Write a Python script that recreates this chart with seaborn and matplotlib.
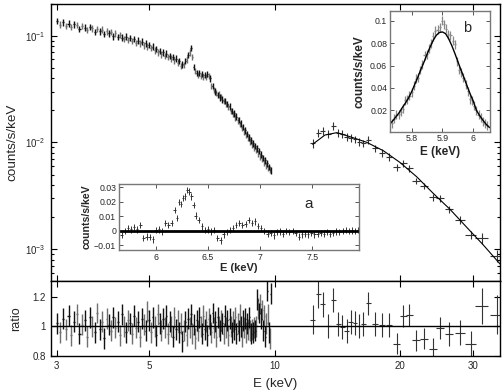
import numpy as np
import matplotlib
matplotlib.use("Agg")
import matplotlib.pyplot as plt
import seaborn as sns
from matplotlib.ticker import FixedLocator, FixedFormatter, NullLocator, LogLocator, NullFormatter

# ---------------- data ----------------
lo_E = [3.00, 3.05, 3.10, 3.15, 3.20, 3.25, 3.30, 3.35, 3.40, 3.45,
        3.50, 3.55, 3.60, 3.65, 3.70, 3.75, 3.80, 3.85, 3.90, 3.95,
        4.00, 4.05, 4.10, 4.15, 4.20, 4.25, 4.30, 4.35, 4.40, 4.45,
        4.50, 4.55, 4.60, 4.65, 4.70, 4.75, 4.80, 4.85, 4.90, 4.95,
        5.00, 5.05, 5.10, 5.15, 5.20, 5.25, 5.30, 5.35, 5.40, 5.45,
        5.50, 5.55, 5.60, 5.65, 5.70, 5.75, 5.80, 5.85, 5.90, 5.95,
        6.00, 6.05, 6.10, 6.15, 6.20, 6.25, 6.30, 6.35, 6.40, 6.45,
        6.50, 6.55, 6.60, 6.65, 6.70, 6.75, 6.80, 6.85, 6.90, 6.95,
        7.00, 7.05, 7.10, 7.15, 7.20, 7.25, 7.30, 7.35, 7.40, 7.45,
        7.50, 7.55, 7.60, 7.65, 7.70, 7.75, 7.80, 7.85, 7.90, 7.95,
        8.00, 8.05, 8.10, 8.15, 8.20, 8.25, 8.30, 8.35, 8.40, 8.45,
        8.50, 8.55, 8.60, 8.65, 8.70, 8.75, 8.80, 8.85, 8.90, 8.95,
        9.00, 9.05, 9.10, 9.15, 9.20, 9.25, 9.30, 9.35, 9.40, 9.45,
        9.50, 9.55, 9.60, 9.65, 9.70, 9.75, 9.80]
lo_flux = [.138, .127, .133, .124, .130, .121, .128, .126, .116, .124,
           .119, .113, .121, .117, .108, .116, .110, .114, .104, .110,
           .105, .108, .099, .105, .097, .102, .096, .093, .098, .091,
           .095, .089, .093, .086, .090, .085, .088, .081, .085, .079,
           .082, .077, .079, .073, .075, .070, .072, .067, .070, .065,
           .068, .063, .065, .061, .063, .059, .061, .056, .058, .052,
           .054, .053, .058, .060, .066, .070, .077, .063, .051, .047,
           .045, .043, .045, .042, .044, .041, .043, .041, .044, .042,
           .040, .034, .034, .031, .030, .029, .028, .0283, .0265, .0268,
           .0252, .0244, .0246, .0229, .0231, .0216, .0218, .0198, .0197, .0185,
           .0187, .0172, .0175, .0161, .0162, .0149, .0151, .0137, .0140, .0127,
           .0130, .0118, .0121, .0110, .0112, .0102, .0105, .0096, .0098, .0090,
           .0093, .0085, .0088, .0079, .0083, .0074, .0077, .0071, .0072, .0065,
           .0068, .0061, .0064, .0058, .0059, .0056, .0055]
lo_ratio = [1.02, 0.96, 1.05, 0.98, 1.07, 0.94, 1.03, 1.08, 0.95, 1.01,
            1.04, 0.93, 1.06, 1.00, 0.96, 1.09, 0.98, 1.03, 0.92, 1.05,
            1.01, 0.97, 1.06, 0.99, 1.03, 0.94, 1.08, 1.00, 0.96, 1.04,
            1.02, 0.95, 1.07, 0.99, 1.03, 0.93, 1.05, 1.01, 0.97, 1.10,
            1.04, 0.96, 1.06, 1.00, 0.94, 1.08, 1.02, 0.97, 1.05, 0.99,
            1.07, 0.95, 1.03, 1.00, 0.93, 1.06, 0.98, 1.04, 0.96, 1.02,
            0.90, 0.97, 1.03, 0.94, 1.05, 0.99, 1.08, 0.95, 1.01, 0.92,
            1.04, 0.97, 1.06, 1.00, 0.95, 1.07, 0.98, 1.03, 0.94, 1.05,
            1.01, 0.96, 1.09, 0.99, 1.03, 0.93, 1.06, 1.00, 0.97, 1.04,
            1.02, 0.95, 1.07, 0.99, 1.04, 0.94, 1.05, 1.00, 0.96, 1.03,
            0.98, 1.06, 0.95, 1.02, 0.97, 1.08, 1.00, 0.93, 1.04, 0.99,
            1.05, 0.96, 1.02, 0.98, 1.06, 0.97, 0.95, 0.98, 0.96, 0.99,
            0.97, 1.00, 1.18, 1.12, 1.09, 1.15, 1.05, 1.11, 0.97, 1.07,
            0.93, 1.02, 1.24, 1.08, 0.96, 0.92, 1.22]
lo_err = 0.07      # relative error of the low-energy bins
lo_halfbin = 0.02

hi_E = [12.35, 12.74, 13.06, 13.47, 13.84, 14.23, 14.55, 14.91, 15.24, 15.61,
        15.98, 16.34, 16.80, 17.43, 18.09, 18.87, 19.66, 20.39, 21.08, 21.87,
        22.86, 23.99, 24.97, 26.28, 27.88, 29.58, 31.44, 34.16]
hi_flux = [0.00983, 0.01236, 0.01289, 0.01202, 0.01427, 0.01236, 0.01202, 0.01133,
           0.01109, 0.01072, 0.01017, 0.00983, 0.01055, 0.00883, 0.00803, 0.00736,
           0.00586, 0.00639, 0.00573, 0.00439, 0.00391, 0.00307, 0.00300, 0.00237,
           0.00188, 0.00136, 0.00127, 0.000866]
hi_halfbin = [0.17, 0.17, 0.18, 0.18, 0.19, 0.19, 0.20, 0.20, 0.21, 0.21,
              0.22, 0.22, 0.23, 0.25, 0.30, 0.32, 0.35, 0.38, 0.40, 0.45,
              0.48, 0.52, 0.56, 0.60, 0.75, 0.90, 1.10, 1.30]
hi_ratio = [1.045, 1.215, 1.147, 1.00, 1.176, 1.018, 0.995, 0.968, 1.03, 1.022,
            1.00, 1.018, 1.154, 1.018, 1.011, 1.011, 0.883, 1.068, 1.075, 0.905,
            0.917, 0.849, 0.988, 0.946, 0.957, 0.878, 1.136, 1.079]
hi_ratio_err = [0.095, 0.09, 0.085, 0.08, 0.08, 0.08, 0.08, 0.08, 0.08, 0.08,
                0.08, 0.08, 0.08, 0.08, 0.08, 0.08, 0.07, 0.075, 0.075, 0.07,
                0.07, 0.07, 0.075, 0.08, 0.085, 0.09, 0.12, 0.13]
hi_model_E = [12.35, 13.22, 14.11, 15.18, 16.65, 18.25, 20.02, 21.95, 24.06,
              26.39, 28.94, 31.72, 34.80]
hi_model = [0.00962, 0.01175, 0.01236, 0.01133, 0.01004, 0.00838, 0.00650,
            0.00478, 0.00334, 0.00237, 0.00161, 0.00110, 0.00073]

a_E = [5.67, 5.70, 5.73, 5.76, 5.79, 5.82, 5.85, 5.88, 5.91, 5.94,
       5.97, 6.00, 6.03, 6.06, 6.09, 6.12, 6.15, 6.18, 6.20, 6.22,
       6.24, 6.26, 6.28, 6.30, 6.32, 6.34, 6.36, 6.38, 6.41, 6.44,
       6.47, 6.50, 6.53, 6.56, 6.59, 6.62, 6.65, 6.68, 6.71, 6.74,
       6.77, 6.80, 6.83, 6.86, 6.89, 6.92, 6.95, 6.98, 7.01, 7.04,
       7.07, 7.10, 7.13, 7.16, 7.19, 7.22, 7.25, 7.28, 7.31, 7.34,
       7.37, 7.40, 7.43, 7.46, 7.49, 7.52, 7.55, 7.58, 7.61, 7.64,
       7.67, 7.70, 7.73, 7.76, 7.79, 7.82, 7.85, 7.88, 7.91, 7.94]
a_val = [-0.003, 0.000, 0.002, 0.001, 0.0025, 0.001, 0.004, -0.005, -0.004, -0.0045,
         -0.006, 0.0005, 0.001, -0.0005, 0.0053, 0.004, 0.0055, 0.0145, 0.0087, 0.020,
         0.0187, 0.0225, 0.0237, 0.0283, 0.027, 0.0237, 0.018, 0.0105, 0.0076, 0.003,
         0.0005, 0.001, -0.0005, 0.0005, -0.005, -0.0067, -0.0025, -0.001, 0.0005, 0.002,
         0.004, 0.0053, 0.004, 0.0045, 0.0076, 0.0053, 0.0065, 0.0035, 0.0019, 0.000,
         -0.0023, -0.0015, -0.0032, -0.001, -0.0005, -0.002, 0.000, -0.001, 0.000, -0.0015,
         -0.004, -0.0025, -0.002, -0.0025, -0.0015, -0.0025, -0.002, -0.0015, -0.002, -0.001,
         -0.002, -0.0015, -0.0005, -0.001, 0.000, 0.0005, 0.000, 0.0003, -0.0002, 0.0005]
a_err = 0.0022

b_E = [5.737, 5.744, 5.751, 5.758, 5.765, 5.772, 5.779, 5.786, 5.793, 5.800,
       5.807, 5.814, 5.821, 5.828, 5.835, 5.842, 5.849, 5.856, 5.863, 5.870,
       5.877, 5.884, 5.891, 5.898, 5.905, 5.912, 5.919, 5.926, 5.933, 5.940,
       5.947, 5.954, 5.961, 5.968, 5.975, 5.982, 5.989, 5.996, 6.003, 6.010,
       6.017, 6.024, 6.031, 6.038, 6.045]
b_val = [0.0085, 0.0125, 0.0160, 0.0165, 0.0185, 0.0215, 0.0290, 0.0300, 0.0330, 0.0360,
         0.0420, 0.0480, 0.0490, 0.0560, 0.0610, 0.0690, 0.0700, 0.0750, 0.0800, 0.0860,
         0.0910, 0.0920, 0.0940, 0.1000, 0.0970, 0.0930, 0.0880, 0.0870, 0.0820, 0.0790,
         0.0640, 0.0560, 0.0540, 0.0490, 0.0430, 0.0370, 0.0300, 0.0290, 0.0240, 0.0200,
         0.0160, 0.0135, 0.0100, 0.0080, 0.0065]
b_err = 0.004
b_model_E = [5.73, 5.74, 5.75, 5.76, 5.77, 5.78, 5.79, 5.80, 5.81, 5.82,
             5.83, 5.84, 5.85, 5.86, 5.87, 5.88, 5.89, 5.90, 5.91, 5.92,
             5.93, 5.94, 5.95, 5.96, 5.97, 5.98, 5.99, 6.00, 6.01, 6.02,
             6.03, 6.04, 6.05, 6.06]
b_model = [0.0080, 0.0110, 0.0145, 0.0180, 0.0225, 0.0265, 0.0310, 0.0365, 0.0430, 0.0495,
           0.0565, 0.0630, 0.0700, 0.0765, 0.0825, 0.0870, 0.0895, 0.0900, 0.0885, 0.0840,
           0.0780, 0.0710, 0.0635, 0.0560, 0.0490, 0.0415, 0.0345, 0.0280, 0.0200, 0.0155,
           0.0115, 0.0080, 0.0052, 0.0035]

# ---------------- style ----------------
sns.set_theme(style="ticks")
plt.rcParams['font.family'] = ['Liberation Sans', 'DejaVu Sans']
plt.rcParams['mathtext.fontset'] = 'custom'
plt.rcParams['mathtext.rm'] = 'Liberation Sans'
plt.rcParams['mathtext.it'] = 'Liberation Sans:italic'
plt.rcParams['mathtext.bf'] = 'Liberation Sans:bold'
plt.rcParams['axes.unicode_minus'] = True

fig = plt.figure(figsize=(5.04, 3.92), dpi=100)
fig.patch.set_facecolor('white')
ax = fig.add_axes([0.1006, 0.2832, 0.8914, 0.7078])
axr = fig.add_axes([0.1006, 0.0918, 0.8914, 0.1914], sharex=ax)
axa = fig.add_axes([0.2361, 0.3622, 0.4760, 0.1684])
axb = fig.add_axes([0.7738, 0.6640, 0.1984, 0.3079])

lo_E_a = np.array(lo_E); lo_flux_a = np.array(lo_flux); lo_ratio_a = np.array(lo_ratio)
hi_flux_a = np.array(hi_flux); hi_ratio_err_a = np.array(hi_ratio_err)

# ---- main spectrum ----
for sl, col in [(slice(1, None, 2), '#707070'), (slice(0, None, 2), '#111111')]:
    ax.errorbar(lo_E_a[sl], lo_flux_a[sl], xerr=lo_halfbin, yerr=lo_flux_a[sl] * lo_err,
                fmt='none', ecolor=col, elinewidth=1.0)
ax.errorbar(hi_E, hi_flux, xerr=hi_halfbin, yerr=hi_flux_a * hi_ratio_err_a,
            fmt='none', ecolor='#333333', elinewidth=0.8)
sns.lineplot(x=hi_model_E, y=hi_model, ax=ax, color='black', linewidth=0.8,
             estimator=None, sort=False, legend=False)
ax.set_xscale('log'); ax.set_yscale('log')
ax.set_xlim(2.9, 34.8)
ax.set_ylim(5.05e-4, 0.2)
ax.yaxis.set_major_locator(FixedLocator([1e-3, 1e-2, 1e-1]))
ax.yaxis.set_major_formatter(FixedFormatter([r'$10^{-3}$', r'$10^{-2}$', r'$10^{-1}$']))
ax.yaxis.set_minor_locator(LogLocator(base=10, subs=np.arange(2, 10)))
ax.yaxis.set_minor_formatter(NullFormatter())
ax.set_ylabel('counts/s/keV', fontsize=9.7)
ax.yaxis.set_label_coords(-0.071, 0.5)

# ---- ratio panel ----
for sl, col in [(slice(1, None, 2), '#707070'), (slice(0, None, 2), '#111111')]:
    axr.errorbar(lo_E_a[sl], lo_ratio_a[sl], xerr=lo_halfbin, yerr=0.07,
                 fmt='none', ecolor=col, elinewidth=1.0)
axr.errorbar(hi_E, hi_ratio, xerr=hi_halfbin, yerr=hi_ratio_err,
             fmt='none', ecolor='#333333', elinewidth=0.8)
axr.axhline(1.0, color='black', lw=1.0)
axr.set_ylim(0.8, 1.305)
axr.yaxis.set_major_locator(FixedLocator([0.8, 1.0, 1.2]))
axr.yaxis.set_major_formatter(FixedFormatter(['0.8', '1', '1.2']))
axr.yaxis.set_minor_locator(NullLocator())
axr.xaxis.set_major_locator(FixedLocator([3, 5, 10, 20, 30]))
axr.xaxis.set_major_formatter(FixedFormatter(['3', '5', '10', '20', '30']))
axr.xaxis.set_minor_locator(NullLocator())
axr.set_ylabel('ratio', fontsize=9)
axr.yaxis.set_label_coords(-0.064, 0.5)
axr.set_xlabel('E (keV)', fontsize=9.5, labelpad=5)

for a in (ax, axr):
    a.tick_params(which='both', direction='in', top=True, right=True, labelsize=7,
                  width=0.8, color='black')
    a.tick_params(which='major', length=4)
    a.tick_params(which='minor', length=2)
    for s in a.spines.values():
        s.set_color('black'); s.set_linewidth(1.0)
ax.tick_params(labelbottom=False)

# ---- inset a ----
axa.errorbar(a_E, a_val, xerr=0.012, yerr=a_err, fmt='none', ecolor='#333333', elinewidth=0.7)
axa.axhline(0.0, color='black', lw=2.0)
axa.set_xlim(5.645, 7.947)
axa.set_ylim(-0.0133, 0.0323)
axa.xaxis.set_major_locator(FixedLocator([6, 6.5, 7, 7.5]))
axa.xaxis.set_major_formatter(FixedFormatter(['6', '6.5', '7', '7.5']))
axa.yaxis.set_major_locator(FixedLocator([-0.01, 0, 0.01, 0.02, 0.03]))
axa.yaxis.set_major_formatter(FixedFormatter(['\u22120.01', '0', '0.01', '0.02', '0.03']))
axa.set_xlabel('E (keV)', fontsize=8, fontweight='bold', labelpad=1)
axa.set_ylabel('counts/s/keV', fontsize=7.6, fontweight='bold', labelpad=2)
axa.text(0.79, 0.70, 'a', transform=axa.transAxes, fontsize=11, ha='center', va='center')

# ---- inset b ----
axb.errorbar(b_E, b_val, xerr=0.0035, yerr=b_err, fmt='none', ecolor='#888888', elinewidth=0.9)
sns.lineplot(x=b_model_E, y=b_model, ax=axb, color='black', linewidth=1.0,
             estimator=None, sort=False, legend=False)
axb.set_xlim(5.73, 6.054)
axb.set_ylim(0.0009, 0.1087)
axb.xaxis.set_major_locator(FixedLocator([5.8, 5.9, 6.0]))
axb.xaxis.set_major_formatter(FixedFormatter(['5.8', '5.9', '6']))
axb.yaxis.set_major_locator(FixedLocator([0.02, 0.04, 0.06, 0.08, 0.1]))
axb.yaxis.set_major_formatter(FixedFormatter(['0.02', '0.04', '0.06', '0.08', '0.1']))
axb.set_xlabel('E (keV)', fontsize=8.5, fontweight='bold', labelpad=2)
axb.set_ylabel('counts/s/keV', fontsize=8.5, fontweight='bold', labelpad=3)
axb.text(0.77, 0.86, 'b', transform=axb.transAxes, fontsize=10.5, ha='center', va='center')

for a in (axa, axb):
    a.set_facecolor('white')
    a.tick_params(which='both', direction='in', top=True, right=True, labelsize=6.3,
                  length=3, width=0.7, color='#555555', pad=2)
    a.xaxis.set_minor_locator(NullLocator()); a.yaxis.set_minor_locator(NullLocator())
    for s in a.spines.values():
        s.set_color('#777777'); s.set_linewidth(1.0)

fig.savefig('out.png', dpi=100, facecolor='white')
